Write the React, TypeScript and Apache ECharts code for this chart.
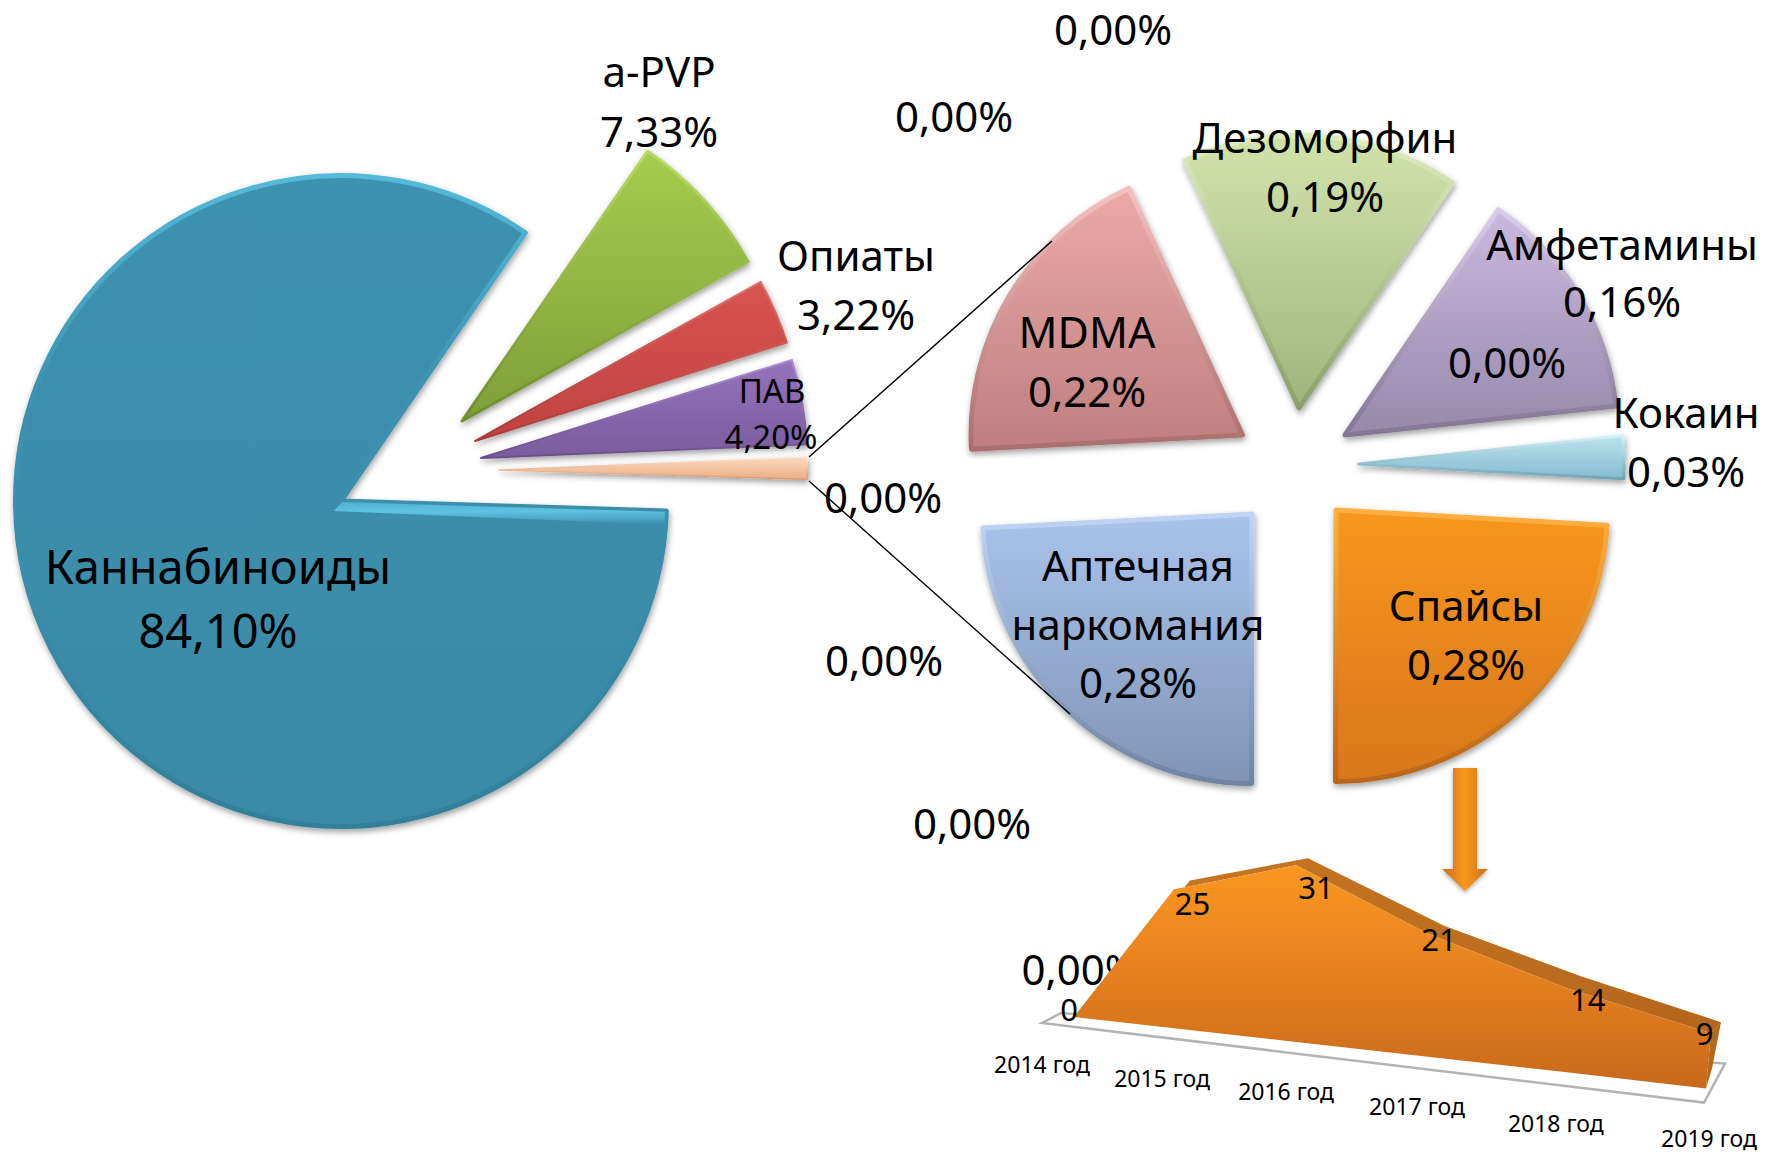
import React, { useEffect, useRef } from "react";
import * as echarts from "echarts";

// ---------- data ----------
const mainNames = ["a-PVP", "Опиаты", "ПАВ", "Прочие", "Каннабиноиды"];
const mainValues = [7.33, 3.22, 4.2, 1.15, 84.1];
const subNames = ["MDMA", "Дезоморфин", "Амфетамины", "Кокаин", "Спайсы", "Аптечная наркомания"];
const subValues = [0.22, 0.19, 0.16, 0.03, 0.28, 0.28];
const zeroValues = [0, 0, 0, 0, 0, 0, 0];
const spiceYears = ["2014 год", "2015 год", "2016 год", "2017 год", "2018 год", "2019 год"];
const spiceCounts = [0, 25, 31, 21, 14, 9];

// ---------- layout & style ----------
const FONT = "'Noto Sans', 'Open Sans', sans-serif";
type SliceStyle = { c: [number, number]; r: number; bw: number; fill: string[]; edge: string[] };
const mainStyles: SliceStyle[] = [
  { c: [462, 421], r: 329, bw: 3, fill: ["#A6CC4E", "#7F9F38"], edge: ["#B9DC66", "#6F8C2E"] },
  { c: [475, 441], r: 328, bw: 2, fill: ["#D85450", "#BE4340"], edge: ["#E2706C", "#A83A37"] },
  { c: [481, 458], r: 327, bw: 2, fill: ["#9473BC", "#7A5C9E"], edge: ["#AE8FD4", "#6A4F8A"] },
  { c: [499, 470], r: 309, bw: 1.5, fill: ["#FBD9BE", "#EBAE86"], edge: ["#FDE7D6", "#D99A70"] },
  { c: [341, 501], r: 328, bw: 5, fill: ["#3C92AF", "#398AA7"], edge: ["#55BAD9", "#3C92AF", "#3A8CA8", "#327F99"] },
];
const subStyles: SliceStyle[] = [
  { c: [1242.5, 435], r: 274, bw: 5, fill: ["#EBAAA8", "#BE7F7E"], edge: ["#F3C2C0", "#A96F6E"] },
  { c: [1299, 408], r: 275, bw: 5, fill: ["#D2E3AA", "#9FB47C"], edge: ["#E0EDBF", "#8CA06B"] },
  { c: [1345, 435], r: 275, bw: 5, fill: ["#C9B9DF", "#9689AA"], edge: ["#DACDEB", "#837794"] },
  { c: [1358.6, 464], r: 267, bw: 3, fill: ["#BBE3EE", "#86BBCE"], edge: ["#D5F0F7", "#6FA5B8"] },
  { c: [1336, 510], r: 274, bw: 5, fill: ["#F8971F", "#D8761B"], edge: ["#FFB040", "#B9661A"] },
  { c: [1252, 514], r: 272, bw: 5, fill: ["#AAC3EC", "#8095B6"], edge: ["#C0D4F4", "#6F83A3"] },
];
const MAIN_START = 55.5;
const SUB_START = 183;

const fmt = (v: number) => v.toFixed(2).replace(".", ",") + "%";
const vGrad = (cols: string[]) => ({
  type: "linear", x: 0, y: 0, x2: 0, y2: 1,
  colorStops: cols.map((color, i) => ({ offset: i / (cols.length - 1), color })),
});

function sliceSeries(values: number[], names: string[], styles: SliceStyle[], start: number) {
  const total = values.reduce((a, b) => a + b, 0);
  let acc = 0;
  return values.map((v, i) => {
    const s = styles[i];
    const startAngle = start - (acc / total) * 360;
    acc += v;
    return {
      type: "pie", name: names[i], z: 3, silent: true, clockwise: true, startAngle,
      center: s.c, radius: [0, s.r - s.bw / 2], animation: false,
      label: { show: false }, labelLine: { show: false },
      data: [
        {
          name: names[i], value: v,
          itemStyle: {
            color: vGrad(s.fill), borderColor: vGrad(s.edge), borderWidth: s.bw, borderJoin: "round",
            shadowBlur: 6, shadowColor: "rgba(0,0,0,0.38)", shadowOffsetX: 1, shadowOffsetY: 3,
          },
        },
        { name: "", value: total - v, itemStyle: { color: "rgba(0,0,0,0)", borderWidth: 0 } },
      ],
    };
  });
}

const txt = (text: string, x: number, y: number, size = 42, z = 20) => ({
  type: "text", z, silent: true,
  style: {
    text, x, y: y - 2.5, fill: "#000", fontFamily: FONT, fontSize: size,
    align: "center", verticalAlign: "middle", textAlign: "center", textVerticalAlign: "middle",
  },
});

const zeroPos: [number, number, number][] = [
  [1113, 31, 20], [954, 118, 20], [883, 499, 20], [884, 662, 20], [972, 825, 20], [1507, 364, 20], [1080.5, 971, 1],
];

// 3-D area projection of the grid coordinates
const GRID = { left: 1074, top: 800, width: 637, height: 189 };
const project = (px: number, py: number) => {
  const t = (px - GRID.left) / GRID.width;
  const X = GRID.left + GRID.width * Math.pow(t, 1.15);
  const base = 1017 + (X - GRID.left) * 0.1123;
  const Y = base - (GRID.top + GRID.height - py) * (1 + 0.14 * t);
  return [X, Y];
};
const depthOffset = [[2, -1], [16, -9], [12, -7], [16, -8], [14, -12], [10, -11]];
const labelOffset = [[-5, -8], [18.5, 14], [20, 22], [11, 5], [21, 11], [-6.5, 0]];
const yearOffset = [[-32, 47], [-12, 50], [-10, 49.5], [-11, 49], [-11, 50.5], [3, 49.5]];

function renderSpice(params: any, api: any) {
  const i = params.dataIndex;
  const pt = (k: number, v: number) => {
    const c = api.coord([k, v]);
    return project(c[0], c[1]);
  };
  const top = spiceCounts.map((v, k) => pt(k, v));
  const base = spiceCounts.map((_, k) => pt(k, 0));
  const last = base.length - 1;
  const bottom = base.map((p, k) => (k === last ? [p[0] - 5, p[1]] : p));
  const outer = top.map((p, k) => [p[0] + depthOffset[k][0], p[1] + depthOffset[k][1]]);
  const children: any[] = [];
  if (i === 0) {
    const b0 = bottom[0];
    const b5 = bottom[last];
    const t5 = top[last];
    children.push({
      type: "polygon", z2: 1,
      shape: { points: [[b0[0] - 32, b0[1] + 6], [b0[0] - 13, b0[1] - 4], [b5[0] + 19, b5[1] - 25], [b5[0] - 2, b5[1] + 14]] },
      style: { fill: "#fff", stroke: "#B4B4B4", lineWidth: 2.5 },
    });
    children.push({
      type: "polygon", z2: 2,
      shape: { points: [...top, ...[...outer].reverse()] },
      style: { fill: { type: "linear", x: 0, y: 0, x2: 1, y2: 0, colorStops: [
        { offset: 0, color: "#CB7A22" }, { offset: 1, color: "#B4661C" },
      ] } },
    });
    children.push({
      type: "polygon", z2: 2,
      shape: { points: [t5, outer[last], [b5[0] + 6, b5[1] - 20], b5] },
      style: { fill: "#B4681C" },
    });
    children.push({
      type: "polygon", z2: 3,
      shape: { points: [...top, ...[...bottom].reverse()] },
      style: { fill: vGrad(["#F99720", "#E5801F", "#C7691C"]) },
    });
  }
  const p = top[i];
  const b = bottom[i];
  children.push({
    type: "text", z2: 10, silent: true,
    style: {
      text: String(spiceCounts[i]), x: p[0] + labelOffset[i][0], y: p[1] + labelOffset[i][1],
      fill: "#000", fontFamily: FONT, fontSize: 31, align: "center", verticalAlign: "middle",
    },
  });
  children.push({
    type: "text", z2: 10, silent: true,
    style: {
      text: spiceYears[i], x: b[0] + yearOffset[i][0], y: b[1] + yearOffset[i][1],
      fill: "#000", fontFamily: FONT, fontSize: 23, align: "center", verticalAlign: "middle",
    },
  });
  return { type: "group", children };
}

const pharmLines = subNames[5].split(" ");

// soft bright bevel along the upper straight edge of the largest slice
function bigSliceHighlight() {
  const s = mainStyles[4];
  const total = mainValues.reduce((a, b) => a + b, 0);
  const before = mainValues.slice(0, 4).reduce((a, b) => a + b, 0);
  const ang = ((MAIN_START - (before / total) * 360) * Math.PI) / 180;
  const dx = Math.cos(ang);
  const dy = -Math.sin(ang);
  const ax = s.c[0] + 1 * dx;
  const ay = s.c[1] + 1 * dy + 1;
  const bx = s.c[0] + (s.r - 4) * dx;
  const by = s.c[1] + (s.r - 4) * dy + 1;
  return {
    type: "polygon", z: 4, silent: true,
    shape: { points: [[ax, ay], [bx, by], [bx, by + 13], [ax - 8, ay + 9]] },
    style: { fill: { type: "linear", x: 0, y: 0, x2: 0.05, y2: 1, colorStops: [
      { offset: 0, color: "#4FB2D1" }, { offset: 0.45, color: "#5EC2E0" }, { offset: 1, color: "#3C92AF" },
    ] } },
  };
}

function buildOption() {
  return {
    animation: false,
    backgroundColor: "#fff",
    grid: { ...GRID, containLabel: false },
    xAxis: { type: "category", data: spiceYears, boundaryGap: false, show: false },
    yAxis: { type: "value", min: 0, max: 35, show: false },
    series: [
      ...sliceSeries(mainValues, mainNames, mainStyles, MAIN_START),
      ...sliceSeries(subValues, subNames, subStyles, SUB_START),
      {
        type: "custom", coordinateSystem: "cartesian2d", z: 5, silent: true,
        data: spiceCounts.map((v, i) => [i, v]),
        encode: { x: 0, y: 1 },
        renderItem: renderSpice,
      },
    ],
    graphic: [
      bigSliceHighlight(),
      { type: "line", z: 8, silent: true, shape: { x1: 809, y1: 457, x2: 1052, y2: 241 }, style: { stroke: "#000", lineWidth: 1.4 } },
      { type: "line", z: 8, silent: true, shape: { x1: 809, y1: 481, x2: 1070, y2: 714 }, style: { stroke: "#000", lineWidth: 1.4 } },
      {
        type: "polygon", z: 6, silent: true,
        shape: { points: [[1453, 768], [1477, 768], [1477, 869], [1488, 869], [1465, 891], [1442, 869], [1453, 869]] },
        style: {
          fill: { type: "linear", x: 0, y: 0, x2: 1, y2: 0, colorStops: [
            { offset: 0, color: "#C96E17" }, { offset: 0.5, color: "#F8981F" }, { offset: 1, color: "#C96E17" },
          ] },
          shadowBlur: 4, shadowColor: "rgba(0,0,0,0.35)", shadowOffsetY: 2,
        },
      },
      txt(mainNames[0], 659, 73), txt(fmt(mainValues[0]), 659, 133),
      txt(mainNames[1], 856, 257), txt(fmt(mainValues[1]), 856, 316),
      txt(mainNames[2], 772, 393, 33), txt(fmt(mainValues[2]), 771, 439, 33),
      txt(mainNames[4], 218, 568, 47), txt(fmt(mainValues[4]), 218, 632, 47),
      txt(subNames[0], 1087, 334, 43), txt(fmt(subValues[0]), 1087, 393),
      txt(subNames[1], 1325, 139), txt(fmt(subValues[1]), 1325, 198),
      txt(subNames[2], 1622, 246), txt(fmt(subValues[2]), 1622, 303),
      txt(subNames[3], 1686, 414), txt(fmt(subValues[3]), 1686, 473),
      txt(subNames[4], 1466, 607), txt(fmt(subValues[4]), 1466, 666),
      txt(pharmLines[0], 1138, 567), txt(pharmLines[1], 1138, 626), txt(fmt(subValues[5]), 1138, 684),
      ...zeroValues.map((v, i) => txt(fmt(v), zeroPos[i][0], zeroPos[i][1], 42, zeroPos[i][2])),
    ],
  };
}

export default function App() {
  const ref = useRef<HTMLDivElement>(null);
  useEffect(() => {
    const chart = echarts.init(ref.current!, null, { renderer: "svg" });
    chart.setOption(buildOption() as any);
    return () => chart.dispose();
  }, []);
  return <div ref={ref} style={{ position: "absolute", left: 0, top: 0, width: 1766, height: 1153 }} />;
}
